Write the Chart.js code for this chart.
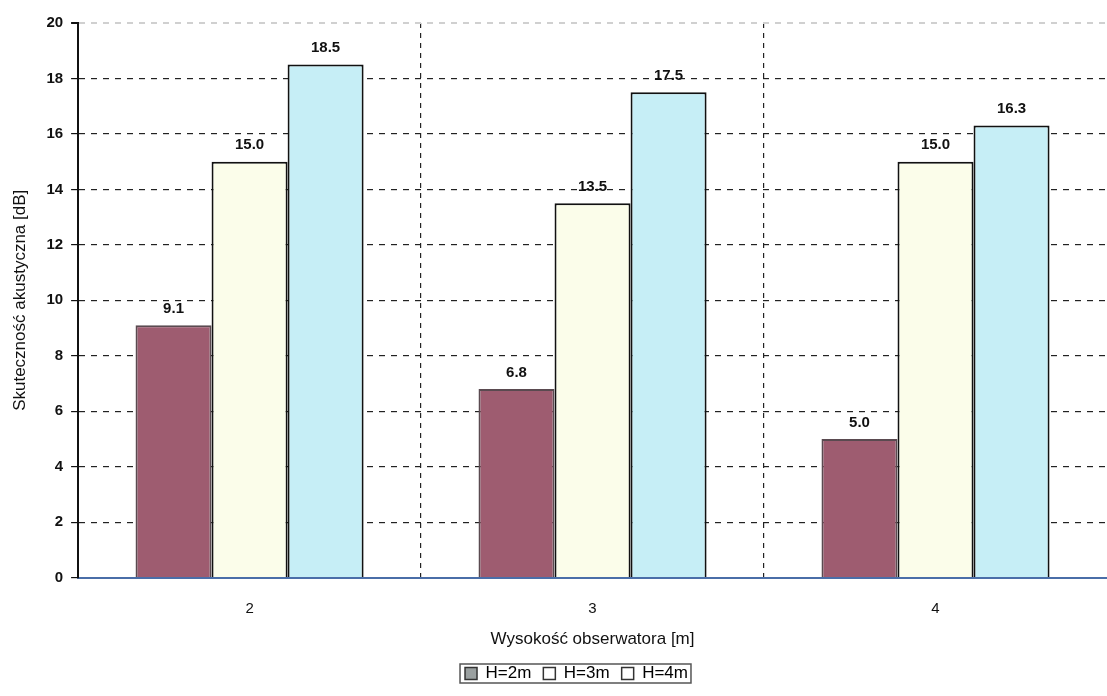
<!DOCTYPE html>
<html><head><meta charset="utf-8">
<script src="https://cdn.jsdelivr.net/npm/chart.js@4/dist/chart.umd.min.js"></script>
<style>html,body{margin:0;padding:0;background:#fff}#wrap{width:1107px;height:696px}</style>
</head><body><div id="wrap"><canvas id="c" width="1107" height="696"></canvas></div>
<script>
const categories = ['2', '3', '4'];
const seriesNames = ['H=2m', 'H=3m', 'H=4m'];
const h2m = [9.1, 6.8, 5.0];
const h3m = [15.0, 13.5, 15.0];
const h4m = [18.5, 17.5, 16.3];
const yTicks = [0, 2, 4, 6, 8, 10, 12, 14, 16, 18, 20];

const fills = ['#9e5c70', '#fbfdea', '#c6eef6'];
const borders = ['#5a4a50', '#111', '#111'];
const FONT = '"Liberation Sans", Arial, sans-serif';

const labelPlugin = {
  id: 'labels',
  afterDatasetsDraw(chart) {
    const ctx = chart.ctx;
    ctx.save();
    ctx.font = 'bold 15px ' + FONT;
    ctx.fillStyle = '#111';
    ctx.textAlign = 'center';
    ctx.textBaseline = 'bottom';
    chart.data.datasets.forEach((ds, di) => {
      chart.getDatasetMeta(di).data.forEach((bar, i) => {
        ctx.fillText(ds.data[i].toFixed(1), bar.x, bar.y - 9);
      });
    });
    ctx.restore();
  }
};
const legendShift = {
  id: 'legendShift',
  afterLayout(chart) {
    if (chart.legend) chart.legend.left += 40;
  }
};
const legendBox = {
  id: 'legendBox',
  afterDraw(chart) {
    const boxes = chart.legend.legendHitBoxes;
    if (!boxes || !boxes.length) return;
    let l = Infinity, r = -Infinity, t = Infinity, b = -Infinity;
    boxes.forEach(h => { l = Math.min(l, h.left); r = Math.max(r, h.left + h.width); t = Math.min(t, h.top); b = Math.max(b, h.top + h.height); });
    const ctx = chart.ctx;
    ctx.save();
    ctx.strokeStyle = '#555';
    ctx.lineWidth = 1.5;
    ctx.strokeRect(l - 5, t - 1, r - l + 8, b - t + 2);
    ctx.restore();
  }
};

new Chart(document.getElementById('c'), {
  type: 'bar',
  data: {
    labels: categories,
    datasets: [h2m, h3m, h4m].map((d, i) => ({
      label: seriesNames[i],
      data: d,
      backgroundColor: fills[i],
      borderColor: borders[i],
      borderWidth: 2,
      borderSkipped: 'bottom',
      categoryPercentage: 0.665,
      barPercentage: 1.0
    }))
  },
  options: {
    responsive: false,
    animation: false,
    devicePixelRatio: 1,
    layout: { padding: { top: 23, left: 6, right: 0, bottom: 4 } },
    plugins: {
      tooltip: { enabled: false },
      legend: {
        position: 'bottom',
        labels: {
          boxWidth: 12, boxHeight: 12, padding: 12,
          color: '#222',
          font: { family: FONT, size: 17 },
          generateLabels(chart) {
            return chart.data.datasets.map((ds, i) => ({
              text: ds.label, fillStyle: i === 0 ? '#9aa0a0' : '#fff', strokeStyle: '#333', lineWidth: 1.5, datasetIndex: i
            }));
          }
        }
      }
    },
    scales: {
      x: {
        offset: true,
        grid: {
          offset: true,
          color: ctx => (ctx.index === 1 || ctx.index === 2) ? '#222' : 'rgba(0,0,0,0)',
          lineWidth: 1.2,
          drawTicks: false
        },
        border: { display: true, color: '#4a6ea8', width: 2, dash: [5, 5] },
        ticks: { padding: 22, color: '#111', font: { family: FONT, size: 15 } },
        title: { display: true, text: 'Wysokość obserwatora [m]', color: '#111', padding: { top: -10, bottom: 3 }, font: { family: FONT, size: 17 } }
      },
      y: {
        min: 0, max: 20,
        afterBuildTicks(axis) { axis.ticks = yTicks.map(v => ({ value: v })); },
        grid: {
          color: ctx => (ctx.tick && ctx.tick.value === 20) ? '#d0d0d0' : '#222',
          lineWidth: ctx => (ctx.tick && ctx.tick.value === 20) ? 2 : 1.2,
          tickColor: '#111',
          tickLength: 7
        },
        border: { display: true, color: '#111', width: 2, dash: [6, 6] },
        ticks: { padding: 8, color: '#111', font: { family: FONT, size: 15, weight: 'bold' } },
        title: { display: true, text: 'Skuteczność akustyczna [dB]', color: '#111', padding: { bottom: 8 }, font: { family: FONT, size: 17 } }
      }
    }
  },
  plugins: [labelPlugin, legendShift, legendBox]
});
</script></body></html>
